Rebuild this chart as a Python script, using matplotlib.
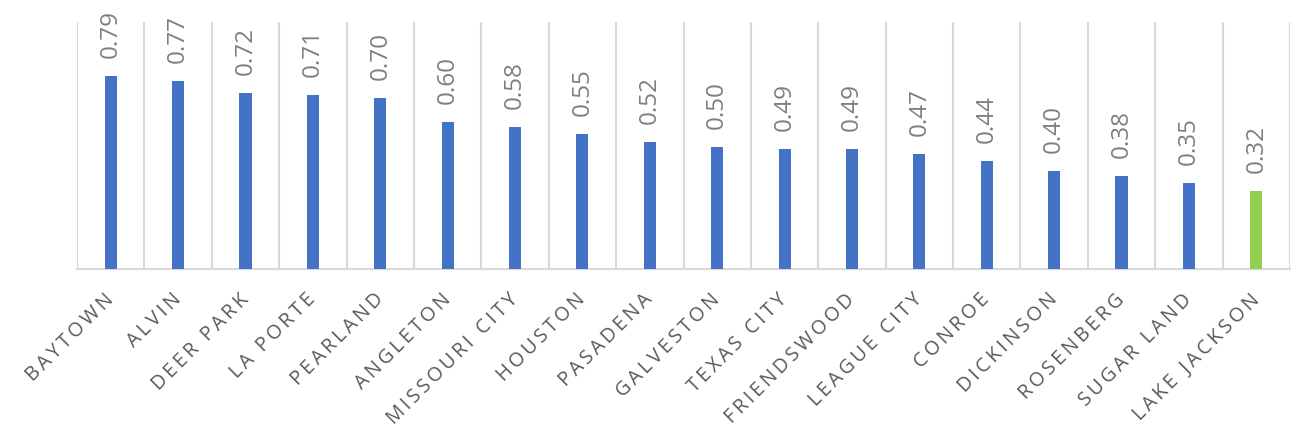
import matplotlib
matplotlib.use("Agg")
import matplotlib.pyplot as plt
import numpy as np

cities = ["BAYTOWN", "ALVIN", "DEER PARK", "LA PORTE", "PEARLAND", "ANGLETON",
          "MISSOURI CITY", "HOUSTON", "PASADENA", "GALVESTON", "TEXAS CITY",
          "FRIENDSWOOD", "LEAGUE CITY", "CONROE", "DICKINSON", "ROSENBERG",
          "SUGAR LAND", "LAKE JACKSON"]
values = [0.79, 0.77, 0.72, 0.71, 0.70, 0.60, 0.58, 0.55, 0.52, 0.50, 0.49,
          0.49, 0.47, 0.44, 0.40, 0.38, 0.35, 0.32]
highlight = "LAKE JACKSON"

blue = "#4472C4"
green = "#92D050"
grid_c = "#D9D9D9"

fig = plt.figure(figsize=(12.96, 4.37), dpi=100)
ax = fig.add_axes([77/1296, 1 - 269/437, (1290-77)/1296, (269-22)/437])

x = np.arange(len(cities))
colors = [green if c == highlight else blue for c in cities]
ax.bar(x, values, width=0.18, color=colors, zorder=3)

ax.set_xlim(-0.5, len(cities) - 0.5)
ax.set_ylim(0, 1.01)

for xi, v in zip(x, values):
    ax.annotate(f"{v:.2f}", (xi, v), xytext=(0, 13), textcoords="offset points",
                rotation=90, ha="center", va="bottom", fontsize=17.5,
                color="#7F7F7F", family=["Open Sans", "DejaVu Sans"])

sep = "\u2009"
ax.set_xticks(x)
ax.set_xticklabels([sep.join(list(c)) for c in cities], rotation=45, ha="right",
                   va="center", rotation_mode="anchor", fontsize=14.2,
                   color="#595959", family=["Open Sans", "DejaVu Sans"])
ax.tick_params(axis="x", length=0, pad=20)
ax.set_xticks(np.arange(len(cities) + 1) - 0.5, minor=True)
ax.tick_params(axis="x", which="minor", length=0)
ax.grid(axis="x", which="minor", color=grid_c, lw=1.5, zorder=0)
ax.grid(axis="x", which="major", visible=False)
ax.set_yticks([])

for s in ["top", "right", "left"]:
    ax.spines[s].set_visible(False)
ax.spines["bottom"].set_color(grid_c)
ax.spines["bottom"].set_linewidth(1.5)

fig.savefig("out.png", dpi=100)
